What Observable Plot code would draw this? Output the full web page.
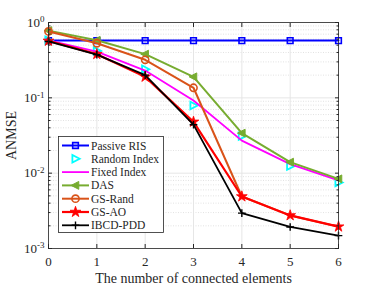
<!DOCTYPE html>
<html><head><meta charset="utf-8">
<script src="https://cdn.jsdelivr.net/npm/d3@7"></script>
<script src="https://cdn.jsdelivr.net/npm/@observablehq/plot@0.6"></script>
<style>
body{margin:0;background:#fff;}
#wrap{position:relative;width:374px;height:286px;font-family:"Liberation Serif","Times New Roman",serif;}
#legend{position:absolute;left:58px;top:136px;}
</style></head><body><div id="wrap"></div>
<script>
const xs = [0, 1, 2, 3, 4, 5, 6];
const passiveRIS  = [0.575, 0.575, 0.575, 0.575, 0.575, 0.575, 0.575];
const randomIndex = [0.58, 0.42, 0.24, 0.079, 0.031, 0.0124, 0.0075];
const fixedIndex  = [0.58, 0.41, 0.23, 0.092, 0.027, 0.0132, 0.0080];
const das         = [0.78, 0.58, 0.38, 0.19, 0.034, 0.014, 0.0084];
const gsRand      = [0.76, 0.53, 0.32, 0.136, 0.0049, 0.00275, 0.00195];
const gsAO        = [0.57, 0.38, 0.19, 0.048, 0.0049, 0.00275, 0.00195];
const ibcdPdd     = [0.56, 0.375, 0.2, 0.044, 0.00295, 0.00193, 0.00148];
const seriesNames = ["Passive RIS", "Random Index", "Fixed Index", "DAS", "GS-Rand", "GS-AO", "IBCD-PDD"];
const yTicks = [1e-3, 1e-2, 1e-1, 1];
const xLabel = "The number of connected elements";
const yLabel = "ANMSE";

// custom triangle symbols
const triLeft = {draw(ctx, size){const r=Math.sqrt(size/Math.PI)*1.15; ctx.moveTo(-r,0); ctx.lineTo(r*0.75,-r*0.9); ctx.lineTo(r*0.75,r*0.9); ctx.closePath();}};
const triRight = {draw(ctx, size){const r=Math.sqrt(size/Math.PI)*1.15; ctx.moveTo(r,0); ctx.lineTo(-r*0.75,-r*0.9); ctx.lineTo(-r*0.75,r*0.9); ctx.closePath();}};

const styles = [
  {name: seriesNames[0], values: passiveRIS, color:"#0000FF", line:true, symbol:"square", r:3.2, fill:"none", sw:2, msw:1.6},
  {name: seriesNames[1], values: randomIndex, color:"#00FFFF", line:false, symbol:triRight, r:3.6, fill:"none", sw:0, msw:1.8},
  {name: seriesNames[2], values: fixedIndex, color:"#FF00FF", line:true, symbol:null, sw:1.8},
  {name: seriesNames[3], values: das, color:"#77AC30", line:true, symbol:triLeft, r:3.8, fill:"#77AC30", sw:2, msw:1},
  {name: seriesNames[4], values: gsRand, color:"#D95319", line:true, symbol:"circle", r:3.6, fill:"none", sw:2, msw:1.6, hideWhere: gsAO},
  {name: seriesNames[5], values: gsAO, color:"#FF0000", line:true, symbol:"star", r:3.4, fill:"#FF0000", sw:2.2, msw:0.8},
  {name: seriesNames[6], values: ibcdPdd, color:"#000000", line:true, symbol:"plus", r:2.6, fill:"none", sw:1.8, msw:1.4}
];

const minorY = [];
for (let e = -3; e < 0; e++) for (let m = 2; m <= 9; m++) minorY.push(m * Math.pow(10, e));

const noLabel = () => "";
const marks = [
  Plot.ruleY(minorY, {stroke:"#d6d6d6", strokeWidth:0.7, strokeDasharray:"1,1.5"}),
  Plot.ruleY(yTicks, {stroke:"#e3e3e3", strokeWidth:0.9}),
  Plot.ruleX(xs, {stroke:"#e3e3e3", strokeWidth:0.9})
];
for (const s of styles) {
  const data = s.values.map((v, i) => ({x: xs[i], y: v, hidden: s.hideWhere ? s.hideWhere[i] === v : false}));
  if (s.line) marks.push(Plot.line(data, {x:"x", y:"y", stroke:s.color, strokeWidth:s.sw}));
  if (s.symbol) marks.push(Plot.dot(data, {x:"x", y:"y", filter: d => !d.hidden, symbol:s.symbol, r:s.r, stroke:s.color, fill:s.fill, strokeWidth:s.msw}));
}
marks.push(
  Plot.frame({stroke:"#262626", strokeWidth:0.8}),
  Plot.axisX(xs, {anchor:"bottom", tickSize:0, tickPadding:8, fontSize:13, label:xLabel, labelAnchor:"center", labelOffset:34, labelArrow:"none"}),
  Plot.axisX(xs, {anchor:"bottom", tickSize:-4, tickFormat:noLabel, label:null, stroke:"#262626"}),
  Plot.axisX(xs, {anchor:"top", tickSize:-4, tickFormat:noLabel, label:null, stroke:"#262626"}),
  Plot.axisY(yTicks, {anchor:"left", tickSize:0, tickPadding:4, fontSize:13, tickFormat:d => String(Math.round(Math.log10(d))), label:yLabel, labelAnchor:"center", labelOffset:42, labelArrow:"none"}),
  Plot.axisY(yTicks, {anchor:"left", tickSize:-4, tickFormat:noLabel, label:null, stroke:"#262626"}),
  Plot.axisY(yTicks, {anchor:"right", tickSize:-4, tickFormat:noLabel, label:null, stroke:"#262626"}),
  Plot.axisY(minorY, {anchor:"left", tickSize:-2.5, tickFormat:noLabel, label:null, stroke:"#262626"}),
  Plot.axisY(minorY, {anchor:"right", tickSize:-2.5, tickFormat:noLabel, label:null, stroke:"#262626"})
);

const chart = Plot.plot({
  width: 374, height: 286,
  marginLeft: 48, marginRight: 36, marginTop: 22, marginBottom: 38,
  style: {fontFamily:'"Liberation Serif","Times New Roman",serif', fontSize:"13px", color:"#262626", background:"white"},
  x: {domain:[0, 6]},
  y: {type:"log", domain:[1e-3, 1]},
  marks
});
document.getElementById("wrap").appendChild(chart);

// drop empty tick-label texts
d3.select(chart).selectAll("text").filter(function(){ return this.textContent === ""; }).remove();

// superscript exponents on y tick labels
d3.select(chart).selectAll('g[aria-label="y-axis tick label"] text').each(function(){
  const exp = this.textContent;
  const t = d3.select(this);
  t.text(null);
  t.append("tspan").text("10");
  t.append("tspan").attr("dy","-0.5em").attr("font-size","9px").text(exp);
});
d3.select(chart).selectAll('g[aria-label="y-axis label"] text, g[aria-label="x-axis label"] text').attr("font-size","14px");

// legend overlay
const lw = 105, lh = 96, rowH = 13.3;
const leg = d3.select("#wrap").append("svg").attr("id","legend").attr("width", lw+1).attr("height", lh+1);
leg.append("rect").attr("x",0.5).attr("y",0.5).attr("width",lw).attr("height",lh).attr("fill","white").attr("stroke","#262626").attr("stroke-width",0.8);
styles.forEach((s, i) => {
  const cy = 9.5 + i * rowH;
  const g = leg.append("g").attr("transform", `translate(0,${cy})`);
  if (s.line) g.append("line").attr("x1",4).attr("x2",31).attr("y1",0).attr("y2",0).attr("stroke",s.color).attr("stroke-width",s.sw);
  if (s.symbol) {
    const type = typeof s.symbol === "string" ? {square:d3.symbolSquare, circle:d3.symbolCircle, star:d3.symbolStar, plus:d3.symbolPlus}[s.symbol] : s.symbol;
    g.append("path").attr("transform","translate(17.5,0)").attr("d", d3.symbol(type, Math.PI*s.r*s.r)()).attr("stroke",s.color).attr("fill",s.fill).attr("stroke-width",s.msw);
  }
  g.append("text").attr("x",33).attr("y",0).attr("dy","0.35em").attr("font-size","11.5px").attr("fill","#262626").attr("font-family",'"Liberation Serif","Times New Roman",serif').text(s.name);
});
</script>
</body></html>
